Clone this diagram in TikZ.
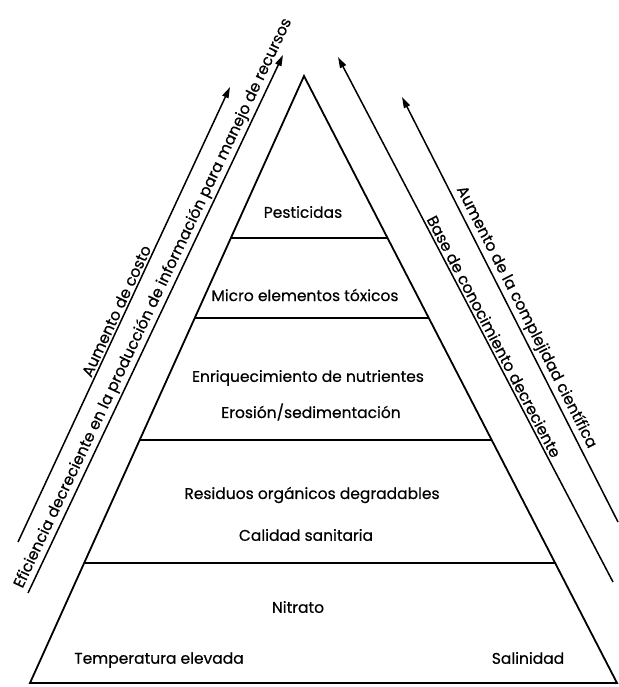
\documentclass[tikz,border=0pt]{standalone}
\usepackage{fontspec}
\setmainfont{Poppins}[FakeBold=0.5]
\usetikzlibrary{arrows.meta,calc}
\begin{document}
\begin{tikzpicture}[x=1pt,y=-1pt,
  edge/.style={line width=1.8pt, line join=miter},
  level/.style={line width=1.6pt},
  trend/.style={line width=1.5pt, -{Triangle[length=11pt,width=6.5pt]}},
  lbl/.style={font=\fontsize{15.5}{18}\selectfont, inner sep=0pt},
  side/.style={font=\fontsize{15.5}{18}\selectfont, inner sep=2pt, sloped, above}]
\useasboundingbox (0,0) rectangle (618,687);

% pyramid outline
\coordinate (apex) at (304,76);
\coordinate (bl) at (30,683);
\coordinate (br) at (617,683);
\draw[edge] (bl) -- (apex) -- (br) -- cycle;

% horizontal divisions between the levels
\foreach \t/\n in {0.2669/a, 0.3987/b, 0.5997/c, 0.8023/d} {
  \coordinate (l\n) at ($(apex)!\t!(bl)$);
  \coordinate (r\n) at ($(apex)!\t!(br)$);
  \draw[level] (l\n) -- (r\n);
}

% level contents
\node[lbl] (pest) at (303,212) {Pesticidas};
\node[lbl] (micro) at (305,295) {Micro elementos tóxicos};
\node[lbl] (enr) at (308,378) {Enriquecimiento de nutrientes};
\node[lbl] (eros) at (311,412) {Erosión/sedimentación};
\node[lbl] (resid) at (312,495) {Residuos orgánicos degradables};
\node[lbl] (calid) at (306,535) {Calidad sanitaria};
\node[lbl] (nitr) at (298,607) {Nitrato};
\node[lbl] (temp) at (159,660) {Temperatura elevada};
\node[lbl] (sal) at (528,658) {Salinidad};

% trend arrows, left side
\coordinate (c1) at (18,542);
\coordinate (c2) at (230,87);
\draw[trend] (c1) -- (c2) node[side, pos=0.5] (costo) {Aumento de costo};
\coordinate (e1) at (28,593);
\coordinate (e2) at (283,55);
\draw[trend] (e1) -- (e2) node[side, pos=0.53] (efic)
  {Eficiencia decreciente en la producción de información para manejo de recursos};

% trend arrows, right side
\coordinate (k1) at (613,582);
\coordinate (k2) at (338,57);
\draw[trend] (k1) -- (k2) node[side, pos=0.46] (base) {Base de conocimiento decreciente};
\coordinate (s1) at (618,522);
\coordinate (s2) at (402,97);
\draw[trend] (s1) -- (s2) node[side, pos=0.47] (compl) {Aumento de la complejidad científica};
\end{tikzpicture}
\end{document}
